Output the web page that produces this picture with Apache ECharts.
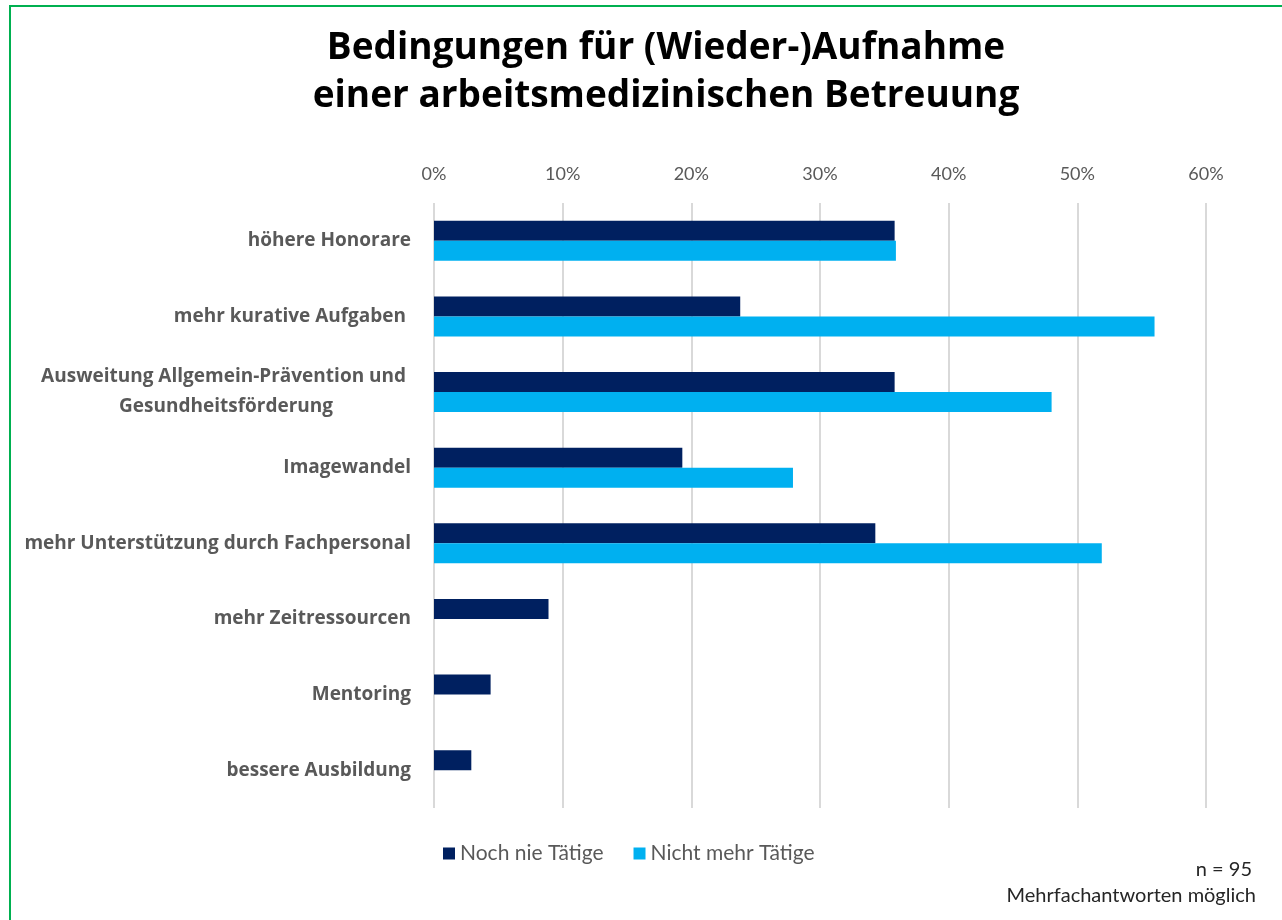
<!DOCTYPE html>
<html>
<head>
<meta charset="utf-8">
<script src="https://cdn.jsdelivr.net/npm/echarts@6/dist/echarts.min.js"></script>
<style>
  html, body { margin: 0; padding: 0; background: #fff; }
  #chart { width: 1282px; height: 920px; }
</style>
</head>
<body>
<div id="chart"></div>
<script>
const categories = [
  "höhere Honorare",
  "mehr kurative Aufgaben ",
  "Ausweitung Allgemein-Prävention und \nGesundheitsförderung",
  "Imagewandel",
  "mehr Unterstützung durch Fachpersonal",
  "mehr Zeitressourcen",
  "Mentoring",
  "bessere Ausbildung"
];
const nochNieTaetige = [35.8, 23.8, 35.8, 19.3, 34.3, 8.9, 4.4, 2.9];
const nichtMehrTaetige = [35.9, 56.0, 48.0, 27.9, 51.9, null, null, null];
const xTicks = [0, 10, 20, 30, 40, 50, 60];

const chart = echarts.init(document.getElementById("chart"), null, { renderer: "canvas" });

const labelFont = "Lato, 'Open Sans', sans-serif";
const catFont = "'Open Sans', sans-serif";

chart.setOption({
  backgroundColor: "#fff",
  animation: false,
  title: {
    text: "Bedingungen für (Wieder-)Aufnahme\neiner arbeitsmedizinischen Betreuung",
    left: 661,
    top: 19,
    textAlign: "center",
    textStyle: {
      fontFamily: "'Open Sans', sans-serif",
      fontWeight: "bold",
      fontSize: 37,
      lineHeight: 48,
      color: "#000"
    }
  },
  legend: {
    data: ["Noch nie Tätige", "Nicht mehr Tätige"],
    left: 438,
    top: 838,
    itemWidth: 12,
    itemHeight: 12,
    itemGap: 30,
    icon: "rect",
    textStyle: { fontFamily: labelFont, fontSize: 21, color: "#595959" }
  },
  grid: { left: 434, right: 76, top: 203, bottom: 112, containLabel: false },
  xAxis: {
    type: "value",
    position: "top",
    min: xTicks[0],
    max: xTicks[xTicks.length - 1],
    interval: 10,
    axisLine: { show: false },
    axisTick: { show: false },
    axisLabel: {
      formatter: "{value}%",
      margin: 20,
      fontFamily: labelFont,
      fontSize: 18,
      color: "#595959"
    },
    splitLine: { lineStyle: { color: "#D9D9D9", width: 2 } }
  },
  yAxis: {
    type: "category",
    inverse: true,
    data: categories,
    axisLine: { show: false },
    axisTick: { show: false },
    axisLabel: {
      margin: 23,
      fontFamily: catFont,
      fontWeight: "bold",
      fontSize: 19,
      color: "#595959",
      lineHeight: 30,
      formatter: function (v) {
        if (v.indexOf("\n") < 0) return v;
        return v.split("\n").map(function (s) { return "{c|" + s + "}"; }).join("\n");
      },
      rich: {
        c: {
          align: "center",
          fontFamily: catFont,
          fontWeight: "bold",
          fontSize: 19,
          color: "#595959",
          lineHeight: 30
        }
      }
    }
  },
  series: [
    {
      name: "Noch nie Tätige",
      type: "bar",
      data: nochNieTaetige,
      barWidth: 20,
      barGap: "0%",
      itemStyle: { color: "#002060" }
    },
    {
      name: "Nicht mehr Tätige",
      type: "bar",
      data: nichtMehrTaetige,
      barWidth: 20,
      barGap: "0%",
      itemStyle: { color: "#00B0F0" }
    }
  ],
  graphic: [
    { type: "rect", shape: { x: 9, y: 5, width: 1273, height: 2 }, style: { fill: "#00B050" } },
    { type: "rect", shape: { x: 9, y: 5, width: 2, height: 915 }, style: { fill: "#00B050" } },
    {
      type: "text",
      right: 30,
      top: 860,
      style: {
        text: "n = 95",
        fontFamily: labelFont,
        fontSize: 20,
        fill: "#262626",
        align: "right"
      }
    },
    {
      type: "text",
      right: 26,
      top: 886,
      style: {
        text: "Mehrfachantworten möglich",
        fontFamily: labelFont,
        fontSize: 20,
        fill: "#262626",
        align: "right"
      }
    }
  ]
});
</script>
</body>
</html>
